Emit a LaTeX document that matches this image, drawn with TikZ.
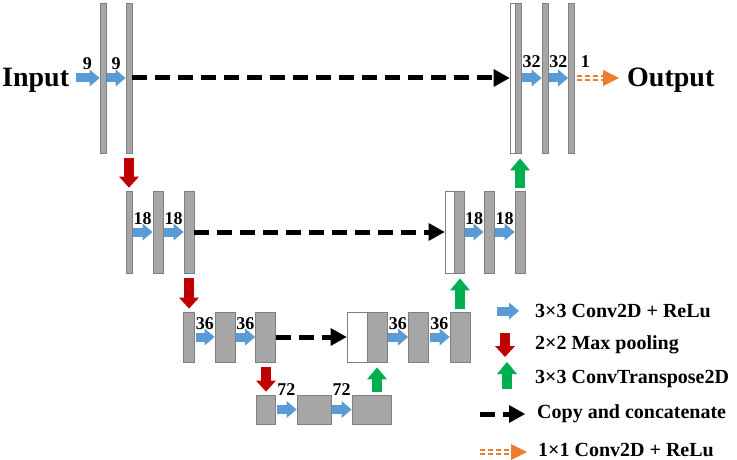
\documentclass[tikz,border=0pt]{standalone}
\usepackage{fontspec}
\setmainfont{Liberation Serif}
\usetikzlibrary{arrows.meta}
\definecolor{barfill}{RGB}{166,166,166}
\definecolor{barline}{RGB}{128,128,128}
\definecolor{convblue}{RGB}{91,155,213}
\definecolor{poolred}{RGB}{192,0,0}
\definecolor{upgreen}{RGB}{0,176,80}
\definecolor{finalorange}{RGB}{237,125,49}
\newcommand{\bigtxt}{\fontsize{28}{30}\selectfont\bfseries}
\newcommand{\keytxt}{\fontsize{20}{22}\selectfont\bfseries}
\newcommand{\numtxt}{\fontsize{18}{18}\selectfont\bfseries}

\begin{document}
\begin{tikzpicture}[x=1pt,y=-1pt]
			\tikzstyle{every node}+=[inner sep=0pt]
			\tikzstyle{bar}=[draw=barline, fill=barfill, line width=0.8pt]
			\tikzstyle{cat}=[draw=barline, fill=white, line width=0.8pt]
			\tikzstyle{conv}=[draw=convblue, line width=9pt, -{Triangle[length=10pt,width=17pt,line width=0pt]}, shorten <=1pt]
			\tikzstyle{pool}=[draw=poolred, line width=10pt, -{Triangle[length=11pt,width=20pt,line width=0pt]}, shorten <=5pt, shorten >=3pt]
			\tikzstyle{upconv}=[draw=upgreen, line width=10pt, -{Triangle[length=12pt,width=20pt,line width=0pt]}, shorten <=3pt, shorten >=5pt]
			\tikzstyle{copy}=[draw=black, line width=5pt, dash pattern=on 15pt off 8pt, -{Triangle[length=16pt,width=18pt,line width=0pt]}]
			\tikzstyle{final}=[draw=finalorange, line width=1.6pt, double=white, double distance=2.4pt, dash pattern=on 5pt off 3pt]
			\tikzstyle{finaltip}=[draw=finalorange, -{Triangle[length=16pt,width=16pt,line width=0pt]}]
			\tikzstyle{num}=[anchor=base, yshift=8pt, font=\numtxt]
			\tikzstyle{key}=[anchor=base west, font=\keytxt]
			\useasboundingbox (0,0) rectangle (737,460);
			\node [anchor=base west, font=\bigtxt] (input) at (2,87) {Input};
			\node [anchor=base west, font=\bigtxt] (output) at (627,87) {Output};
			\node [bar, minimum width=6pt, minimum height=150pt] (a1) at (103,78) {};
			\node [bar, minimum width=6pt, minimum height=150pt] (a2) at (129,78) {};
			\node [cat, minimum width=5pt, minimum height=150pt] (u1w) at (512.5,78) {};
			\node [bar, minimum width=6pt, minimum height=150pt] (u1g) at (518,78) {};
			\node [bar, minimum width=6pt, minimum height=150pt] (u1b) at (545,78) {};
			\node [bar, minimum width=6pt, minimum height=150pt] (u1c) at (571.5,78) {};
			\node [bar, minimum width=6pt, minimum height=82pt] (b1) at (129,232) {};
			\node [bar, minimum width=10pt, minimum height=82pt] (b2) at (158,232) {};
			\node [bar, minimum width=10pt, minimum height=82pt] (b3) at (189,232) {};
			\node [cat, minimum width=9pt, minimum height=82pt] (u2w) at (449.5,232) {};
			\node [bar, minimum width=10pt, minimum height=82pt] (u2g) at (459,232) {};
			\node [bar, minimum width=10pt, minimum height=82pt] (u2b) at (489,232) {};
			\node [bar, minimum width=10pt, minimum height=82pt] (u2c) at (520,232) {};
			\node [bar, minimum width=11pt, minimum height=50pt] (c1) at (189,337) {};
			\node [bar, minimum width=20pt, minimum height=50pt] (c2) at (225,337) {};
			\node [bar, minimum width=20pt, minimum height=50pt] (c3) at (265.5,337) {};
			\node [cat, minimum width=20pt, minimum height=50pt] (u3w) at (357,337) {};
			\node [bar, minimum width=20pt, minimum height=50pt] (u3g) at (377,337) {};
			\node [bar, minimum width=20pt, minimum height=50pt] (u3b) at (418.5,337) {};
			\node [bar, minimum width=20pt, minimum height=50pt] (u3c) at (460,337) {};
			\node [bar, minimum width=19pt, minimum height=29pt] (d1) at (266,409.5) {};
			\node [bar, minimum width=34pt, minimum height=29pt] (d2) at (314,409.5) {};
			\node [bar, minimum width=39pt, minimum height=29pt] (d3) at (371.5,409.5) {};
			\draw [conv, shorten <=7pt] (input.east |- a1) -- (a1) node [num, pos=0.6] (n1) {9};
			\draw [conv] (a1) -- (a2) node [num, midway] (n2) {9};
			\draw [copy] (a2) -- (u1w);
			\draw [conv] (u1g) -- (u1b) node [num, midway, yshift=2pt] (n3) {32};
			\draw [conv] (u1b) -- (u1c) node [num, midway, yshift=2pt] (n4) {32};
			\draw [final, shorten <=2pt, shorten >=24pt] (u1c) -- (output.west |- u1c) node [num, pos=0.2, yshift=2pt] (n5) {1};
			\draw [finaltip, shorten <=28pt, shorten >=8pt] (u1c) -- (output.west |- u1c);
			\draw [pool] (a2) -- (b1);
			\draw [conv] (b1) -- (b2) node [num, midway] (n6) {18};
			\draw [conv] (b2) -- (b3) node [num, midway] (n7) {18};
			\draw [copy] (b3) -- (u2w);
			\draw [conv] (u2g) -- (u2b) node [num, midway] (n8) {18};
			\draw [conv] (u2b) -- (u2c) node [num, midway] (n9) {18};
			\draw [upconv] (u2c) -- (u2c |- u1g.south);
			\draw [pool] (b3) -- (c1);
			\draw [conv] (c1) -- (c2) node [num, midway] (n10) {36};
			\draw [conv] (c2) -- (c3) node [num, midway] (n11) {36};
			\draw [copy] (c3) -- (u3w);
			\draw [conv] (u3g) -- (u3b) node [num, midway] (n12) {36};
			\draw [conv] (u3b) -- (u3c) node [num, midway] (n13) {36};
			\draw [upconv] (u3c) -- (u3c |- u2g.south);
			\draw [pool] (d1 |- c3.south) -- (d1);
			\draw [conv] (d1) -- (d2) node [num, midway, yshift=6pt] (n14) {72};
			\draw [conv] (d2) -- (d3) node [num, midway, yshift=6pt] (n15) {72};
			\draw [upconv] (d3.north -| u3g) -- (u3g);
			\coordinate (k1s) at (497,311);
			\coordinate (k1e) at (519,311);
			\coordinate (k2s) at (505,333);
			\coordinate (k2e) at (505,357);
			\coordinate (k3s) at (507,389);
			\coordinate (k3e) at (507,362);
			\coordinate (k4s) at (480,414);
			\coordinate (k4e) at (525,414);
			\coordinate (k5s) at (480,452);
			\coordinate (k5e) at (527,452);
			\draw [conv, shorten <=0pt] (k1s) -- (k1e);
			\draw [pool, shorten <=0pt, shorten >=0pt] (k2s) -- (k2e);
			\draw [upconv, shorten <=0pt, shorten >=0pt] (k3s) -- (k3e);
			\draw [copy] (k4s) -- (k4e);
			\draw [final, shorten >=16pt] (k5s) -- (k5e);
			\draw [finaltip, shorten <=31pt] (k5s) -- (k5e);
			\node [key] (k1) at (535,317) {3×3 Conv2D + ReLu};
			\node [key] (k2) at (535,349) {2×2 Max pooling};
			\node [key] (k3) at (535,383) {3×3 ConvTranspose2D};
			\node [key] (k4) at (537,418) {Copy and concatenate};
			\node [key] (k5) at (538,456) {1×1 Conv2D + ReLu};
\end{tikzpicture}
\end{document}
